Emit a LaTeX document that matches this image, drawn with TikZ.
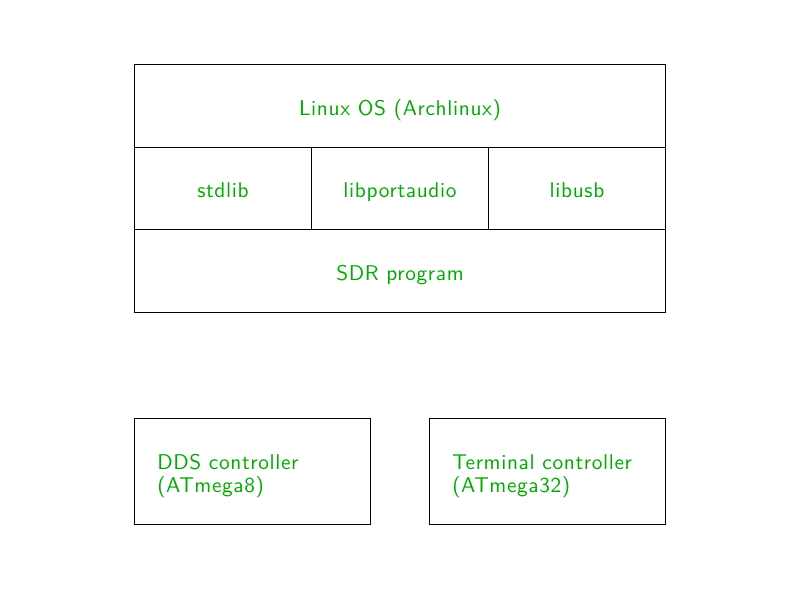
\documentclass[tikz,border=0pt]{standalone}
\usepackage{fontspec}
\usepackage{tikz}
\usetikzlibrary{positioning}
\definecolor{labelgreen}{RGB}{0,170,0}
\newfontfamily\labelsans{lmsans10-regular.otf}[LetterSpace=3]
\newcommand{\labelfont}{\labelsans\fontsize{16}{17.25}\selectfont}
\tikzset{
  x=0.75pt, y=-0.75pt,
  cell/.style={
    draw=black, line width=0.75pt, rectangle, anchor=north west,
    font=\labelfont, text=labelgreen, inner sep=0pt
  },
  wide/.style={cell, minimum width=398.25pt, minimum height=62.25pt,
    text height=13.5pt, text depth=0pt},
  lib/.style={cell, minimum width=132.75pt, minimum height=61.5pt,
    text height=13.5pt, text depth=0pt},
  ctrl/.style={cell, minimum width=177pt, minimum height=79.5pt},
  ctrltext/.style={font=\labelfont, text=labelgreen, inner sep=0pt,
    align=left, anchor=west}
}

\begin{document}
\begin{tikzpicture}
  \useasboundingbox (0,0) rectangle (800,600);

  % host side
  \node[wide] (os) at (134,64) {Linux OS (Archlinux)};
  \node[lib] (stdlib) at (134,147) {stdlib};
  \node[lib] (portaudio) at (311,147) {libportaudio};
  \node[lib] (libusb) at (488,147) {libusb};
  \node[wide] (sdr) at (134,229) {SDR program};

  % controllers
  \node[ctrl] (dds) at (134,418) {};
  \node[ctrltext] (ddstext) at ([xshift=17.25pt,yshift=-3.4pt]dds.west)
    {DDS controller\\(ATmega8)};
  \node[ctrl] (term) at (429,418) {};
  \node[ctrltext] (termtext) at ([xshift=17.25pt,yshift=-3.4pt]term.west)
    {Terminal controller\\(ATmega32)};
\end{tikzpicture}
\end{document}
